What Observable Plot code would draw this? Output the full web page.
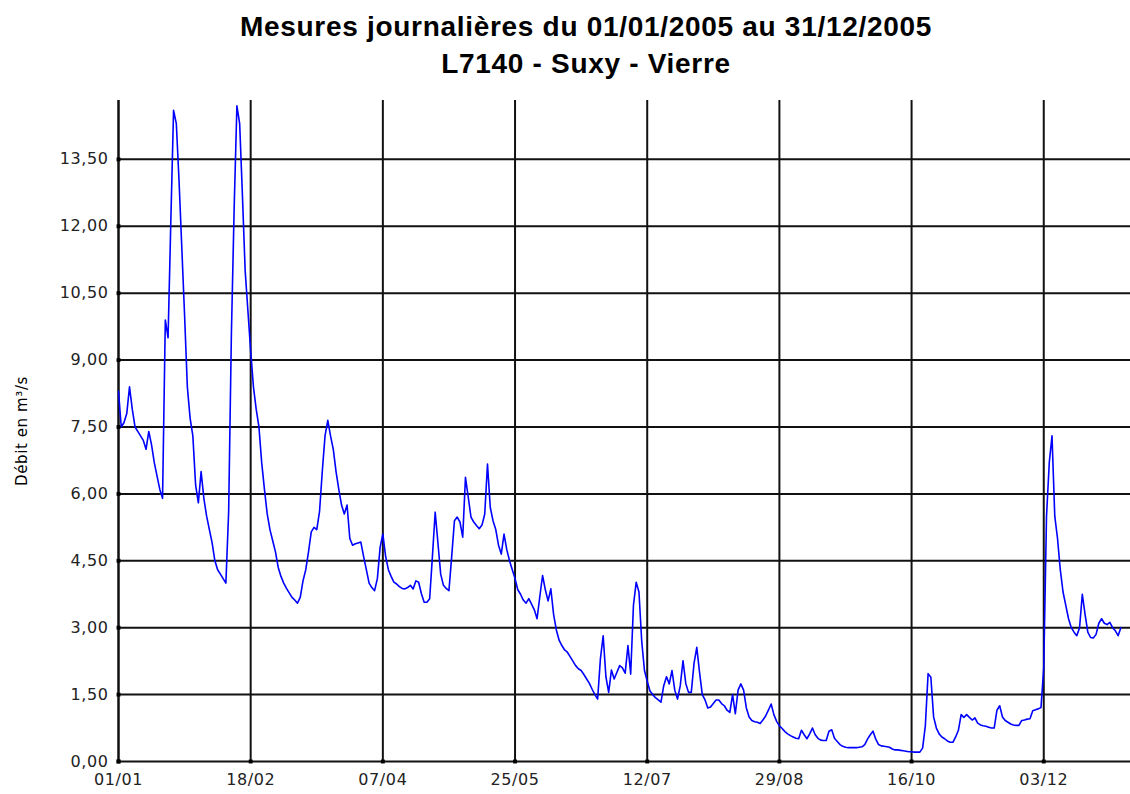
<!DOCTYPE html>
<html>
<head>
<meta charset="utf-8">
<script src="https://cdn.jsdelivr.net/npm/d3@7"></script>
<script src="https://cdn.jsdelivr.net/npm/@observablehq/plot@0.6"></script>
<style>
  html, body { margin: 0; padding: 0; background: #fff; }
  #wrap { position: relative; width: 1130px; height: 794px; overflow: hidden; }
  .title { position: absolute; left: 21px; width: 1130px; text-align: center;
           font: bold 28px "Liberation Sans", Arial, sans-serif; letter-spacing: 0.7px; color: #000; line-height: 32px; }
</style>
</head>
<body>
<div id="wrap">
  <div class="title" style="top:11px">Mesures journalières du 01/01/2005 au 31/12/2005</div>
  <div class="title" style="top:48px">L7140 - Suxy - Vierre</div>
</div>
<script>
// Daily discharge (m³/s), 2005, one array per month
const jan = [8.3,7.5,7.6,7.8,8.4,7.9,7.5,7.4,7.3,7.2, 7.0,7.4,7.1,6.7,6.4,6.1,5.9,9.9,9.5,12.1, 14.6,14.3,13.0,11.5,10.0,8.4,7.7,7.3,6.2,5.8, 6.5];
const feb = [5.9,5.5,5.2,4.9,4.5,4.3,4.2,4.1,4.0, 5.6,9.6,12.4,14.7,14.3,12.7,11.0,10.1,9.2,8.4, 7.9,7.5,6.7,6.1,5.55,5.2,4.95,4.7,4.35];
const mar = [4.15, 4.0,3.88,3.78,3.68,3.62,3.55,3.68,4.05,4.3,4.7, 5.15,5.25,5.2,5.6,6.5,7.3,7.65,7.3,7.0,6.5, 6.1,5.75,5.55,5.75,5.0,4.85,4.88,4.9,4.92,4.6];
const apr = [4.3,4.0,3.9,3.83,4.1,4.8,5.1,4.6,4.3,4.15, 4.02,3.98,3.92,3.88,3.87,3.9,3.95,3.87,4.05,4.02, 3.76,3.57,3.57,3.65,4.6,5.59,4.9,4.2,3.95,3.88];
const may = [3.83,4.6,5.4,5.48,5.37,5.03,6.37,5.93,5.48,5.37, 5.29,5.22,5.3,5.55,6.67,5.7,5.4,5.2,4.85,4.65, 5.1,4.75,4.5,4.3,4.1,3.85,3.75,3.62,3.55,3.65, 3.53];
const jun = [3.4,3.2,3.7,4.17,3.85,3.6,3.87,3.3,2.95, 2.72,2.6,2.5,2.45,2.35,2.25,2.15,2.08,2.04,1.95, 1.85,1.75,1.62,1.5,1.4,2.3,2.82,1.9,1.55,2.05, 1.85];
const jul = [2.0,2.15,2.1,1.98,2.6,1.96,3.5,4.02,3.8, 2.7,2.04,1.8,1.58,1.5,1.43,1.38,1.33,1.7,1.9, 1.74,2.04,1.6,1.4,1.7,2.26,1.75,1.55,1.55,2.2, 2.56,2.0];
const aug = [1.5,1.38,1.2,1.22,1.3,1.38,1.38,1.3, 1.25,1.15,1.1,1.5,1.07,1.6,1.74,1.6,1.2,1.0, 0.92,0.89,0.88,0.85,0.93,1.02,1.15,1.29,1.05,0.9, 0.8,0.74,0.67];
const sep = [0.62,0.58,0.55,0.52,0.51,0.70,0.6, 0.51,0.62,0.75,0.6,0.52,0.48,0.47,0.47,0.68,0.71, 0.52,0.45,0.38,0.34,0.32,0.31,0.31,0.31,0.31,0.32, 0.33,0.38,0.5];
const oct = [0.6,0.68,0.5,0.38,0.35,0.34,0.33, 0.32,0.28,0.26,0.26,0.25,0.24,0.23,0.22,0.22,0.21, 0.21,0.21,0.3,0.8,1.97,1.89,1.0,0.75,0.62,0.55, 0.51,0.46,0.43,0.43];
const nov = [0.55,0.7,1.05,0.99,1.05,0.99, 0.93,0.98,0.86,0.82,0.8,0.79,0.77,0.75,0.75,1.15, 1.25,1.0,0.92,0.88,0.84,0.82,0.81,0.81,0.92,0.93, 0.95,0.96,1.14,1.16];
const dec = [1.18,1.21,2.1,5.5,6.7,7.3, 5.5,5.0,4.3,3.8,3.5,3.2,3.0,2.9,2.82,3.0, 3.75,3.3,2.9,2.78,2.77,2.85,3.1,3.2,3.1,3.07, 3.12,3.0,2.93,2.82,3.0];

const months = [jan, feb, mar, apr, may, jun, jul, aug, sep, oct, nov, dec];

// Tick labels
const xTickDates = ["2005-01-01","2005-02-18","2005-04-07","2005-05-25","2005-07-12","2005-08-29","2005-10-16","2005-12-03"];
const yTicks = [0, 1.5, 3, 4.5, 6, 7.5, 9, 10.5, 12, 13.5];
const yLabel = "Débit en m³/s";

const data = [];
months.forEach((arr, m) => arr.forEach((v, i) => data.push({date: new Date(Date.UTC(2005, m, i + 1)), value: v})));

const xTicks = xTickDates.map(s => new Date(s + "T00:00:00Z"));
const DAY = 86400000;
const x0 = new Date(Date.UTC(2005, 0, 1));
const x1 = new Date(x0.getTime() + 367.5 * DAY);
const yMax = 14.82;

const fmtY = v => v.toFixed(2).replace(".", ",");
const fmtX = d3.utcFormat("%d/%m");

const chart = Plot.plot({
  width: 1130,
  height: 794,
  marginLeft: 118,
  marginRight: 0,
  marginTop: 100,
  marginBottom: 33,
  style: {fontFamily: "'DejaVu Sans', Verdana, sans-serif", background: "transparent", color: "#222", letterSpacing: "0.6px"},
  x: {type: "utc", domain: [x0, x1]},
  y: {domain: [0, yMax]},
  marks: [
    Plot.ruleY(yTicks, {stroke: "#111", strokeWidth: 2}),
    Plot.ruleX(xTicks, {stroke: "#111", strokeWidth: 2}),
    Plot.ruleX([x0], {stroke: "#111", strokeWidth: 2}),
    Plot.line(data, {x: "date", y: "value", stroke: "#0000ff", strokeWidth: 1.6}),
    Plot.dot(yTicks, {x: () => x0, y: d => d, symbol: "square", r: 2.2, fill: "#000"}),
    Plot.dot(xTicks, {x: d => d, y: () => 0, symbol: "square", r: 2.2, fill: "#000"}),
    Plot.axisY(yTicks, {tickFormat: fmtY, tickSize: 0, tickPadding: 10, fontSize: 16, label: null}),
    Plot.axisX(xTicks, {tickFormat: fmtX, tickSize: 0, tickPadding: 12, fontSize: 16, label: null}),
    Plot.text([yLabel], {frameAnchor: "left", textAnchor: "middle", text: d => d, rotate: -90, dx: -96, fontSize: 15, fill: "#000"})
  ]
});
chart.style.position = "absolute";
chart.style.left = "0";
chart.style.top = "0";
document.getElementById("wrap").prepend(chart);
</script>
</body>
</html>
